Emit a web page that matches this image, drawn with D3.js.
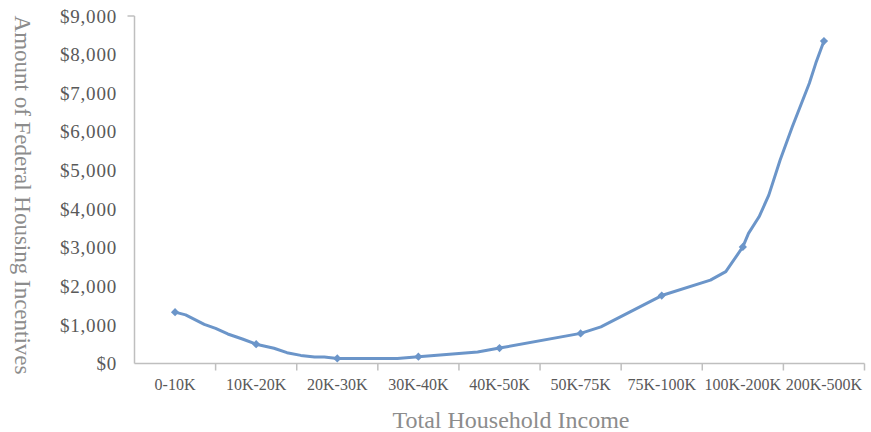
<!DOCTYPE html>
<html>
<head>
    <meta charset="utf-8">
    <style>
        body {
            margin: 0;
            background: white;
        }

        svg {
            font-family: 'Liberation Serif', 'Times New Roman', serif;
        }
    </style>
</head>
<body>
    <svg width="871" height="432"></svg>

<script src="https://d3js.org/d3.v7.min.js"></script>
<script>
    // categories on the x axis
    let categories = ["0-10K", "10K-20K", "20K-30K", "30K-40K", "40K-50K",
        "50K-75K", "75K-100K", "100K-200K", "200K-500K"]

    // marker value for each category
    let markerValues = [1330, 500, 130, 175, 400, 780, 1760, 3020, 8350]

    // the drawn line has more points than markers (position = category index)
    let linePos = [0, 0.13, 0.36, 0.5, 0.65, 0.83, 1, 1.22, 1.38, 1.55, 1.72, 1.84, 2,
        2.74, 3, 3.73, 4, 5, 5.25, 6, 6.6, 6.79, 7, 7.07, 7.2, 7.32, 7.46, 7.61, 7.82, 7.9, 8]
    let lineValues = [1330, 1260, 1015, 910, 765, 635, 500, 395, 280, 210, 168, 168, 130,
        130, 175, 300, 400, 780, 950, 1760, 2160, 2380, 3020, 3370, 3800, 4360, 5270, 6130, 7260, 7780, 8350]

    let yTicks = [0, 1000, 2000, 3000, 4000, 5000, 6000, 7000, 8000, 9000]

    let plotLeft = 134.5
    let plotRight = 864.5
    let plotTop = 16
    let plotBottom = 363.5

    let svg = d3.select("svg")

    let x = d3.scaleLinear()
        .domain([-0.5, categories.length - 0.5])
        .range([plotLeft, plotRight])

    let y = d3.scaleLinear()
        .domain([0, 9000])
        .range([plotBottom, plotTop])

    let axisColor = "#bfbfbf"

    // y axis line + the one tick at the top
    svg.append("line")
        .attr("x1", plotLeft).attr("x2", plotLeft)
        .attr("y1", plotTop).attr("y2", plotBottom)
        .style("stroke", axisColor)
        .style("stroke-width", 1.5)

    svg.append("line")
        .attr("x1", plotLeft - 7).attr("x2", plotLeft)
        .attr("y1", plotTop).attr("y2", plotTop)
        .style("stroke", axisColor)
        .style("stroke-width", 1.5)

    // x axis line
    svg.append("line")
        .attr("x1", plotLeft).attr("x2", plotRight)
        .attr("y1", plotBottom).attr("y2", plotBottom)
        .style("stroke", axisColor)
        .style("stroke-width", 1.5)

    // x ticks between categories
    svg.selectAll(".xtick")
        .data(d3.range(1, categories.length + 1))
        .join("line")
        .attr("class", "xtick")
        .attr("x1", d => x(d - 0.5))
        .attr("x2", d => x(d - 0.5))
        .attr("y1", plotBottom)
        .attr("y2", plotBottom + 7)
        .style("stroke", axisColor)
        .style("stroke-width", 1.5)

    // y tick labels
    let fmt = d3.format("$,")
    svg.selectAll(".ylabel")
        .data(yTicks)
        .join("text")
        .attr("class", "ylabel")
        .attr("x", 117)
        .attr("y", d => y(d))
        .attr("dy", "0.35em")
        .attr("text-anchor", "end")
        .style("font-size", "19px")
        .style("letter-spacing", "0.8px")
        .style("fill", "#595959")
        .text(d => fmt(d))

    // x tick labels
    svg.selectAll(".xlabel")
        .data(categories)
        .join("text")
        .attr("class", "xlabel")
        .attr("x", (d, i) => x(i))
        .attr("y", 390)
        .attr("text-anchor", "middle")
        .style("font-size", "16px")
        .style("fill", "#595959")
        .text(d => d)

    // axis titles
    svg.append("text")
        .attr("x", 511)
        .attr("y", 428)
        .attr("text-anchor", "middle")
        .style("font-size", "24px")
        .style("fill", "#8c8c8c")
        .text("Total Household Income")

    svg.append("text")
        .attr("transform", "translate(15,195) rotate(90)")
        .attr("text-anchor", "middle")
        .style("font-size", "23px")
        .style("fill", "#8c8c8c")
        .text("Amount of Federal Housing Incentives")

    // the line
    let lineColor = "#6b95c9"
    let line = d3.line()
        .x((d, i) => x(linePos[i]))
        .y(d => y(d))

    svg.append("path")
        .attr("d", line(lineValues))
        .style("fill", "none")
        .style("stroke", lineColor)
        .style("stroke-width", 3)
        .style("stroke-linejoin", "round")
        .style("stroke-linecap", "round")

    // diamond markers (square turned 45 degrees)
    svg.selectAll(".marker")
        .data(markerValues)
        .join("path")
        .attr("class", "marker")
        .attr("d", d3.symbol().type(d3.symbolSquare).size(34))
        .attr("transform", (d, i) => "translate(" + x(i) + "," + y(d) + ") rotate(45)")
        .style("fill", lineColor)
</script>
</body>
</html>
